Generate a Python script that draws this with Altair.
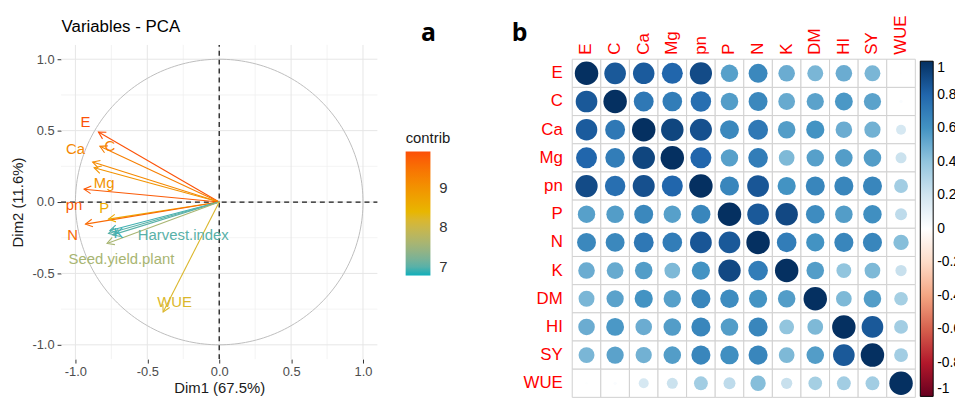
import altair as alt
import pandas as pd
import numpy as np

# ---------------- Panel a : PCA variables ----------------
pca_vars = ["E", "C", "Ca", "Mg", "pn", "P", "N", "K", "DM",
            "Harvest.index", "Seed.yield.plant", "WUE"]
dim1 = [-0.84, -0.83, -0.88, -0.87, -0.94, -0.77, -0.93, -0.76, -0.77, -0.74, -0.78, -0.39]
dim2 = [0.49, 0.39, 0.28, 0.24, 0.09, -0.12, -0.155, -0.20, -0.22, -0.23, -0.29, -0.77]
contrib = [9.9, 9.3, 9.15, 9.0, 9.8, 8.6, 9.6, 6.9, 7.0, 7.0, 7.6, 8.2]
label_text = ["E", "C", "Ca", "Mg", "pn", "P", "N", "K", "",
              "Harvest.index", "Seed.yield.plant", "WUE"]
label_x = [-0.93, -0.76, -1.00, -0.80, -1.01, -0.80, -1.02, -0.70, 0.0, -0.25, -0.68, -0.31]
label_y = [0.56, 0.39, 0.37, 0.13, -0.02, -0.04, -0.23, -0.215, 0.0, -0.23, -0.40, -0.70]

major_breaks = [-1.0, -0.5, 0.0, 0.5, 1.0]
minor_breaks = [-0.75, -0.25, 0.25, 0.75]
panel_lim = [-1.1, 1.1]
contrib_ticks = [7, 8, 9]
contrib_domain = [6.78, 8.355, 9.93]
contrib_colors = ["#00AFBB", "#E7B800", "#FC4E07"]

# ---------------- Panel b : correlation matrix ----------------
corr_vars = ["E", "C", "Ca", "Mg", "pn", "P", "N", "K", "DM", "HI", "SY", "WUE"]
r_E   = [1.00, 0.85, 0.84, 0.80, 0.90, 0.55, 0.65, 0.50, 0.46, 0.50, 0.46, 0.01]
r_C   = [0.85, 1.00, 0.72, 0.70, 0.76, 0.56, 0.65, 0.51, 0.54, 0.58, 0.54, 0.02]
r_Ca  = [0.84, 0.72, 1.00, 0.92, 0.88, 0.65, 0.72, 0.56, 0.60, 0.50, 0.48, 0.18]
r_Mg  = [0.80, 0.70, 0.92, 1.00, 0.80, 0.55, 0.70, 0.45, 0.55, 0.56, 0.56, 0.22]
r_pn  = [0.90, 0.76, 0.88, 0.80, 1.00, 0.66, 0.86, 0.60, 0.66, 0.66, 0.66, 0.35]
r_P   = [0.55, 0.56, 0.65, 0.55, 0.66, 1.00, 0.85, 0.91, 0.63, 0.56, 0.62, 0.26]
r_N   = [0.65, 0.65, 0.72, 0.70, 0.86, 0.85, 1.00, 0.70, 0.60, 0.66, 0.66, 0.43]
r_K   = [0.50, 0.51, 0.56, 0.45, 0.60, 0.91, 0.70, 1.00, 0.56, 0.40, 0.45, 0.23]
r_DM  = [0.46, 0.54, 0.60, 0.55, 0.66, 0.63, 0.60, 0.56, 1.00, 0.45, 0.56, 0.34]
r_HI  = [0.50, 0.58, 0.50, 0.56, 0.66, 0.56, 0.66, 0.40, 0.45, 1.00, 0.85, 0.35]
r_SY  = [0.46, 0.54, 0.48, 0.56, 0.66, 0.62, 0.66, 0.45, 0.56, 0.85, 1.00, 0.35]
r_WUE = [0.01, 0.02, 0.18, 0.22, 0.35, 0.26, 0.43, 0.23, 0.34, 0.35, 0.35, 1.00]
corr_rows = [r_E, r_C, r_Ca, r_Mg, r_pn, r_P, r_N, r_K, r_DM, r_HI, r_SY, r_WUE]

legend_values = [1, 0.8, 0.6, 0.4, 0.2, 0, -0.2, -0.4, -0.6, -0.8, -1]
rdbu_domain = [-1, -0.8, -0.6, -0.4, -0.2, 0, 0.2, 0.4, 0.6, 0.8, 1]
rdbu_colors = ["#67001F", "#B2182B", "#D6604D", "#F4A582", "#FDDBC7", "#FFFFFF",
               "#D1E5F0", "#92C5DE", "#4393C3", "#2166AC", "#053061"]

FONT = "Liberation Sans"

# ---------------- build tables ----------------
pca_df = pd.DataFrame({"var": pca_vars, "d1": dim1, "d2": dim2, "contrib": contrib,
                       "label": label_text, "lx": label_x, "ly": label_y})
pca_df["x0"] = 0.0
pca_df["y0"] = 0.0

grid_rows = []
for kind, br in (("major", major_breaks), ("minor", minor_breaks)):
    for v in br:
        grid_rows.append({"kind": kind, "x": v, "x2": v, "y": panel_lim[0], "y2": panel_lim[1]})
        grid_rows.append({"kind": kind, "x": panel_lim[0], "x2": panel_lim[1], "y": v, "y2": v})
grid_df = pd.DataFrame(grid_rows)

zero_df = pd.DataFrame({"x": [0.0, panel_lim[0]], "x2": [0.0, panel_lim[1]],
                        "y": [panel_lim[0], 0.0], "y2": [panel_lim[1], 0.0]})

theta = np.linspace(0, 2 * np.pi, 241)
circle_df = pd.DataFrame({"i": np.arange(len(theta)), "cx": np.cos(theta), "cy": np.sin(theta)})

cells = []
for i, rv in enumerate(corr_vars):
    for j, cv in enumerate(corr_vars):
        r = corr_rows[i][j]
        cells.append({"row": rv, "col": cv, "r": r, "absr": abs(r)})
corr_df = pd.DataFrame(cells)

# ---------------- scales / axes for panel a ----------------
xs = alt.Scale(domain=panel_lim, range=[53.5, 372.5], nice=False, zero=False)
ys = alt.Scale(domain=panel_lim, range=[352.4, 35.6], nice=False, zero=False)
fix_minus = "replace(format(datum.value, '.1f'), '\u2212', '-')"
ax_x = alt.Axis(orient="bottom", offset=-41.6, values=major_breaks, labelExpr=fix_minus,
                domain=False, grid=False, ticks=True, tickSize=4, tickColor="#333333",
                labelColor="#4D4D4D", labelFontSize=13, labelPadding=3, labelFlush=False,
                title="Dim1 (67.5%)", titleFontSize=15, titleColor="#1A1A1A",
                titleFontWeight="normal", titlePadding=2)
ax_y = alt.Axis(orient="left", offset=-53.5, values=major_breaks, labelExpr=fix_minus,
                domain=False, grid=False, ticks=True, tickSize=4, tickColor="#333333",
                labelColor="#4D4D4D", labelFontSize=13, labelPadding=3, labelFlush=False,
                title="Dim2 (11.6%)", titleFontSize=15, titleColor="#1A1A1A",
                titleFontWeight="normal", titlePadding=6)
cscale = alt.Scale(domain=contrib_domain, range=contrib_colors, interpolate="lab")
pca_legend = alt.Legend(type="gradient", orient="none", legendX=401, legendY=122,
                        direction="vertical", gradientLength=125, gradientThickness=25,
                        title="contrib", titleFontSize=15, titleFontWeight="normal",
                        titleColor="#1A1A1A", titlePadding=6, values=contrib_ticks,
                        labelExpr="'' + datum.value", labelFontSize=15,
                        labelColor="#333333", labelOffset=9, labelOverlap=False,
                        gradientStrokeWidth=0)

X = lambda f: alt.X(f, type="quantitative", scale=xs, axis=ax_x)
Y = lambda f: alt.Y(f, type="quantitative", scale=ys, axis=ax_y)
COL_NOLEG = alt.Color("contrib:Q", scale=cscale, legend=None)
COL_LEG = alt.Color("contrib:Q", scale=cscale, legend=pca_legend)

grid_major = alt.Chart(grid_df).transform_filter("datum.kind == 'major'").mark_rule(
    color="#E6E6E6", strokeWidth=1).encode(x=X("x"), y=Y("y"), x2="x2", y2="y2")
grid_minor = alt.Chart(grid_df).transform_filter("datum.kind == 'minor'").mark_rule(
    color="#F0F0F0", strokeWidth=0.8).encode(x=X("x"), y=Y("y"), x2="x2", y2="y2")
circle = alt.Chart(circle_df).mark_line(color="#BDBDBD", strokeWidth=1).encode(
    x=X("cx"), y=Y("cy"), order=alt.Order("i:Q"))
zero_lines = alt.Chart(zero_df).mark_rule(color="#1A1A1A", strokeWidth=1.3,
                                          strokeDash=[5, 4]).encode(
    x=X("x"), y=Y("y"), x2="x2", y2="y2")
arrows = alt.Chart(pca_df).mark_rule(strokeWidth=1.1).encode(
    x=X("x0"), y=Y("y0"), x2="d1", y2="d2", color=COL_NOLEG)
heads = alt.Chart(pca_df).transform_calculate(
    ang="(atan2(-datum.d2, datum.d1) * 180 / PI + 360) % 360"
).mark_point(shape="M -1 -0.55 L 0 0 L -1 0.55", filled=False, strokeWidth=1.1,
             size=196, opacity=1).encode(
    x=X("d1"), y=Y("d2"), angle=alt.Angle("ang:Q", scale=None), color=COL_NOLEG)
labels = alt.Chart(pca_df).transform_filter("datum.label != ''").mark_text(
    fontSize=15, font=FONT, align="center", baseline="middle").encode(
    x=X("lx"), y=Y("ly"), text="label:N", color=COL_LEG)

pca = alt.layer(grid_minor, grid_major, circle, zero_lines, arrows, heads, labels
                ).resolve_legend(color="independent")

# ---------------- panel b ----------------
cx = alt.Scale(domain=corr_vars, range=[569, 915], paddingInner=0, paddingOuter=0)
cy = alt.Scale(domain=corr_vars, range=[50, 391], paddingInner=0, paddingOuter=0)
cax_x = alt.Axis(orient="top", offset=-50, labelAngle=270, labelColor="#FF0000",
                 labelFontSize=17, labelPadding=5, ticks=False, domain=False, grid=False,
                 title=None)
cax_y = alt.Axis(orient="left", offset=-569, labelColor="#FF0000", labelFontSize=17,
                 labelPadding=10, ticks=False, domain=False, grid=False, title=None)
corr_legend = alt.Legend(type="gradient", orient="none", legendX=920, legendY=52,
                         direction="vertical", gradientLength=338, gradientThickness=13,
                         title=None, values=legend_values, labelExpr="'' + datum.value",
                         labelFontSize=14, labelOffset=4, labelColor="#000000",
                         labelOverlap=False, gradientStrokeColor="#000000",
                         gradientStrokeWidth=1)
rdbu = alt.Scale(domain=rdbu_domain, range=rdbu_colors, interpolate="rgb")

cells_layer = alt.Chart(corr_df).mark_rect(fill="white", stroke="#D0D0D0", strokeWidth=1).encode(
    x=alt.X("col:N", scale=cx, axis=cax_x, sort=corr_vars),
    y=alt.Y("row:N", scale=cy, axis=cax_y, sort=corr_vars))
dots = alt.Chart(corr_df).mark_circle(opacity=1).encode(
    x=alt.X("col:N", scale=cx, axis=cax_x, sort=corr_vars),
    y=alt.Y("row:N", scale=cy, axis=cax_y, sort=corr_vars),
    size=alt.Size("absr:Q", scale=alt.Scale(domain=[0, 1], range=[0, 560]), legend=None),
    color=alt.Color("r:Q", scale=rdbu, legend=corr_legend))
corr = alt.layer(cells_layer, dots)

# ---------------- annotations ----------------
title_a = alt.Chart(pd.DataFrame({"t": ["Variables - PCA"]})).mark_text(
    fontSize=17, font=FONT, align="left", baseline="middle", color="#000000").encode(
    x=alt.value(54), y=alt.value(18), text="t:N")
tag_a = alt.Chart(pd.DataFrame({"t": ["a"]})).mark_text(
    fontSize=25, font="Open Sans", fontWeight="bold", align="center",
    baseline="alphabetic", color="#000000").encode(x=alt.value(424), y=alt.value(32), text="t:N")
tag_b = alt.Chart(pd.DataFrame({"t": ["b"]})).mark_text(
    fontSize=25, font="Open Sans", fontWeight="bold", align="center",
    baseline="alphabetic", color="#000000").encode(x=alt.value(516), y=alt.value(32), text="t:N")

chart = alt.layer(pca, corr, title_a, tag_a, tag_b).resolve_scale(
    x="independent", y="independent", color="independent", size="independent"
).resolve_axis(x="independent", y="independent").resolve_legend(
    color="independent"
).properties(
    width=955, height=394, autosize=alt.AutoSizeParams(type="none"), padding=0
).configure(font=FONT).configure_view(stroke=None)

chart.save("out.html", embed_options={"renderer": "svg", "actions": False})
